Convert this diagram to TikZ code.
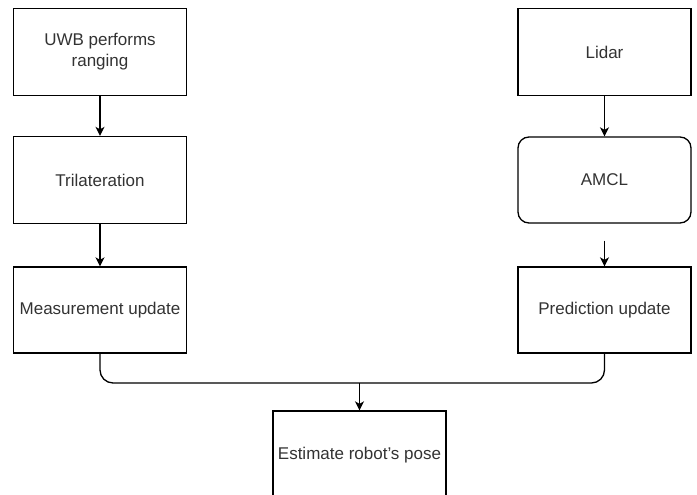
\documentclass[tikz,border=0pt]{standalone}
\usepackage{fontspec}
\setmainfont{Liberation Sans}
\usetikzlibrary{arrows.meta}
\definecolor{txt}{HTML}{333333}
\tikzset{
  box/.style={draw=black, line width=1.3pt, fill=white, minimum width=173pt, minimum height=87pt,
    inner sep=2pt, align=center, font=\fontsize{17pt}{21pt}\selectfont, text=txt},
  rbox/.style={box, rounded corners=11pt},
  conn/.style={line width=1.3pt, -{Stealth[length=9pt,width=9pt,inset=2.5pt]}},
  plain/.style={line width=1.3pt}
}
\begin{document}
\begin{tikzpicture}[x=1pt,y=-1pt]
\useasboundingbox (0,0) rectangle (697,495);
\clip (0,0) rectangle (697,495);
\node[box] (uwb) at (100,52) {UWB performs\\ranging};
\node[box] (tri) at (100,180) {Trilateration};
\node[box, minimum height=86pt] (meas) at (100,310) {Measurement update};
\node[box] (lidar) at (604.5,52) {Lidar};
\node[rbox, minimum height=86pt] (amcl) at (604.5,180) {AMCL};
\node[box, minimum height=86pt] (pred) at (604.5,310) {Prediction update};
\node[box, minimum height=88pt] (est) at (359.5,455) {Estimate robot's pose};
\draw[conn] (uwb) -- (tri);
\draw[conn] (tri) -- (meas);
\draw[conn] (lidar) -- (amcl);
\coordinate (a1) at ([yshift=-17pt]amcl.south);
\draw[conn] (a1) -- (pred);
\coordinate (m) at (359.5,383);
\draw[plain, rounded corners=13pt] (meas.south) |- (m) -| (pred.south);
\draw[conn] (m) -- (est);
\end{tikzpicture}
\end{document}
